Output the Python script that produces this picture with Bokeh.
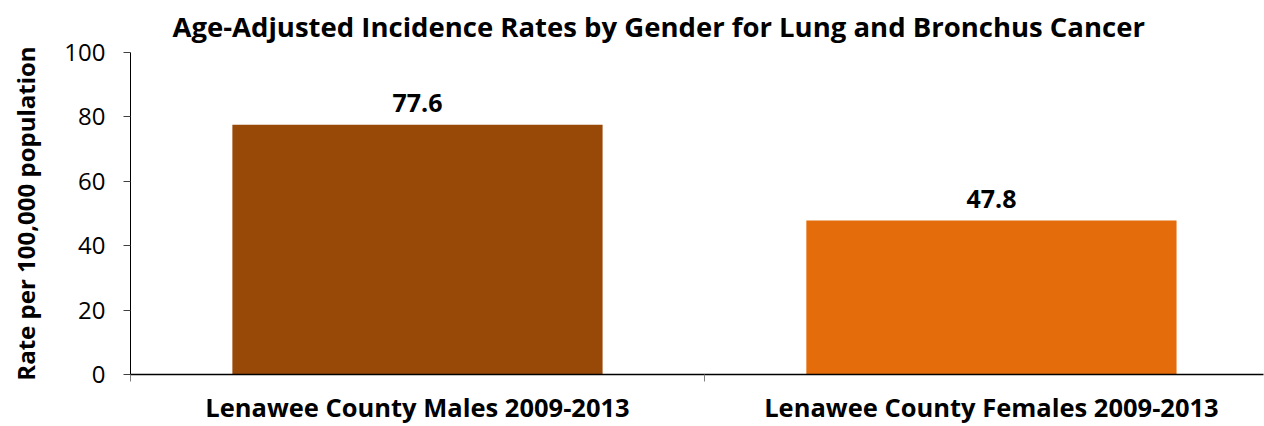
from bokeh.plotting import figure
from bokeh.models import ColumnDataSource, FixedTicker, Range1d
from bokeh.core.properties import value
from bokeh.embed import file_html
from bokeh.resources import INLINE

categories = ["Lenawee County Males 2009-2013", "Lenawee County Females 2009-2013"]
rates = [77.6, 47.8]
colors = ["#984807", "#E46C0A"]
y_ticks = [0, 20, 40, 60, 80, 100]

xpos = [i + 0.5 for i in range(len(categories))]
src = ColumnDataSource(dict(x=xpos, top=rates, color=colors,
                            label=[f"{v:.1f}" for v in rates]))

FONT = "Open Sans"

p = figure(width=1264, height=426, output_backend="svg", toolbar_location=None,
           x_range=Range1d(0, 1.974), y_range=Range1d(0, 100),
           min_border_left=130, min_border_right=1, min_border_top=52, min_border_bottom=51)
p.title.text = "Age-Adjusted Incidence Rates by Gender for Lung and Bronchus Cancer"
p.title.align = "left"
p.title.text_font = FONT
p.title.text_font_style = "bold"
p.title.text_font_size = "27.5px"
p.title.text_color = "black"
p.title.offset = 42
p.title.standoff = 11
p.title.vertical_align = "top"

p.vbar(x="x", top="top", width=0.645, bottom=0, color="color", source=src, line_color=None)
p.text(x="x", y="top", text="label", source=src, text_align="center",
       text_baseline="bottom", y_offset=-13, text_font=value(FONT),
       text_font_style="bold", text_font_size="25px", text_color="black")

p.xgrid.visible = False
p.ygrid.visible = False
p.outline_line_color = None
p.background_fill_color = "white"
p.border_fill_color = "white"

xa = p.xaxis[0]
xa.ticker = FixedTicker(ticks=xpos, minor_ticks=[0, 1, 2])
xa.major_label_overrides = {x: c for x, c in zip(xpos, categories)}
xa.major_tick_line_color = None
xa.major_tick_out = 0
xa.minor_tick_line_color = "#7f7f7f"
xa.minor_tick_out = 7
xa.minor_tick_in = 0
xa.axis_line_color = "black"
xa.axis_line_width = 1.5
xa.major_label_text_font = FONT
xa.major_label_text_font_style = "bold"
xa.major_label_text_font_size = "25.5px"
xa.major_label_text_color = "black"
xa.major_label_standoff = 8

ya = p.yaxis[0]
ya.ticker = FixedTicker(ticks=y_ticks)
ya.minor_tick_line_color = None
ya.major_tick_line_color = "#404040"
ya.major_tick_out = 7
ya.major_tick_in = 0
ya.axis_line_color = "black"
ya.major_label_text_font = FONT
ya.major_label_text_font_size = "24px"
ya.major_label_text_color = "black"
ya.major_label_standoff = 18
ya.axis_label = "Rate per 100,000 population"
ya.axis_label_text_font = FONT
ya.axis_label_text_font_style = "bold"
ya.axis_label_text_font_size = "24px"
ya.axis_label_text_color = "black"
ya.axis_label_standoff = 19

open("out.html", "w").write(file_html(p, INLINE))
